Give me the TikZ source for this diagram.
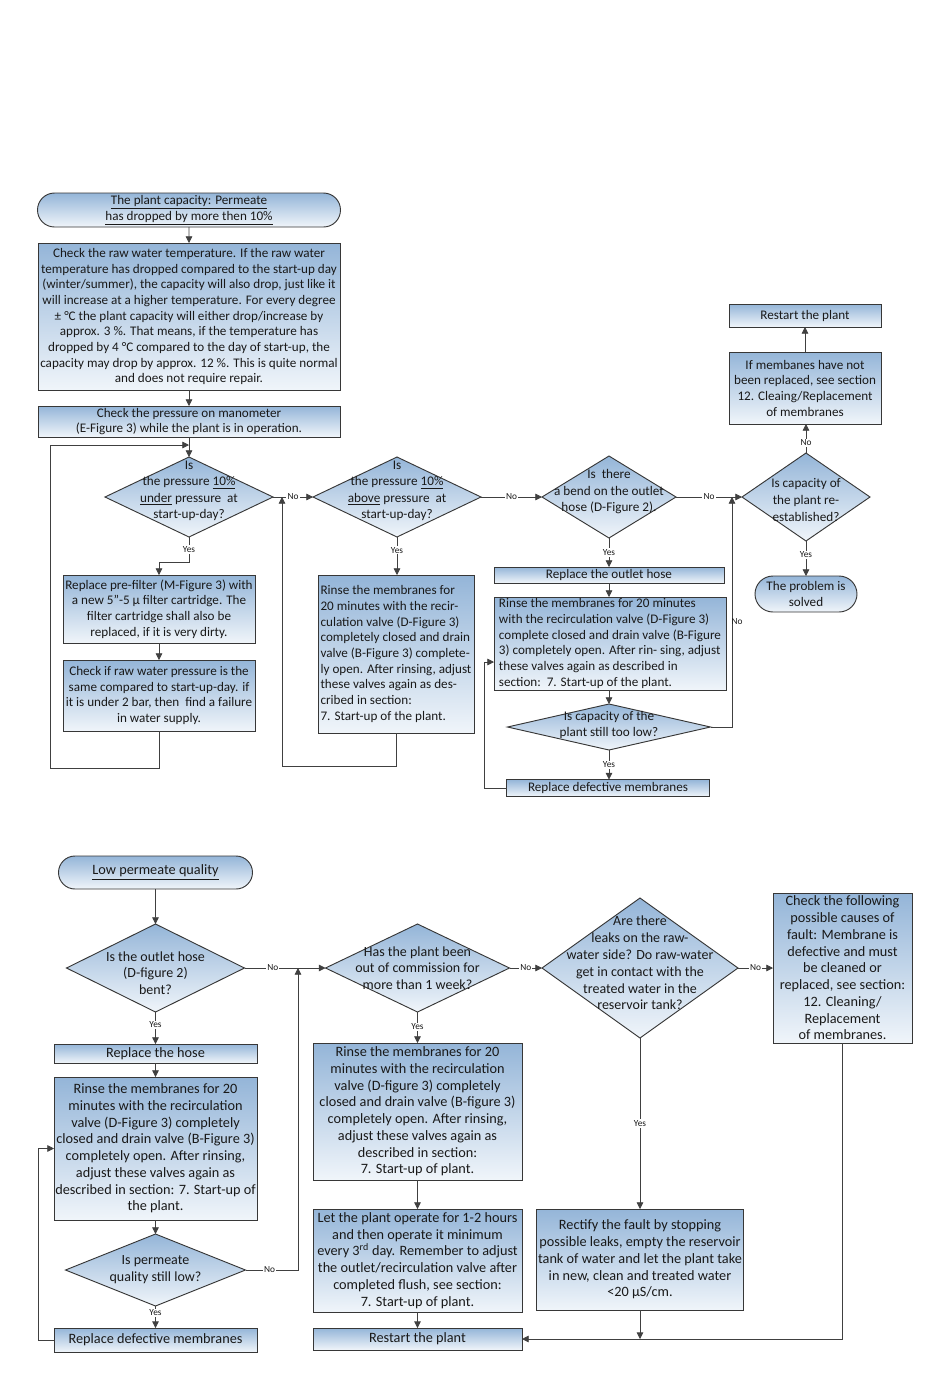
\documentclass[tikz,border=0pt]{standalone}
\usepackage{fontspec}
\setmainfont{Carlito}
\usetikzlibrary{shapes.geometric,shapes.misc,arrows.meta,calc}
\newdimen\px \px=0.75pt
\definecolor{topc}{RGB}{148,181,216}
\definecolor{botc}{RGB}{240,245,250}
\definecolor{bord}{RGB}{55,55,55}
\definecolor{linec}{RGB}{64,64,64}
\definecolor{txt}{RGB}{25,25,25}
\newcommand\myfa{\fontsize{9.85}{11.75}\selectfont}
\newcommand\myfb{\fontsize{10.7}{12.55}\selectfont}
\newcommand\myfc{\fontsize{10.5}{12.6}\selectfont}
\newcommand\myfd{\fontsize{9.9}{12.4}\selectfont}
\newcommand\myfl{\fontsize{7}{7.5}\selectfont}
\begin{document}
\begin{tikzpicture}[x=0.75pt,y=-0.75pt,
 base/.style={draw=bord, line width=0.7pt, top color=topc, bottom color=botc, text=txt, font=\myfa, inner sep=0pt, outer sep=0pt},
 box/.style={base, rectangle, align=center},
 bbox/.style={box, font=\myfb},
 lbox/.style={base, rectangle, align=left},
 term/.style={base, rounded rectangle, align=center},
 dia/.style={base, diamond},
 dtext/.style={text=txt, font=\myfd, align=center, inner sep=0pt},
 btext/.style={dtext, font=\myfc},
 arr/.style={draw=linec, line width=0.6pt, -{Triangle[length=5pt,width=5pt]}},
 lbl/.style={fill=white, font=\myfl, text=txt, inner sep=0.8pt},
 sz/.style 2 args={minimum width=#1\px, minimum height=#2\px},
]
\useasboundingbox (0,0) rectangle (950,1397);

% ---------------- top chart ----------------
\node[term, sz={303}{34}] (t1) at (189,210) {\underline{The plant capacity: Permeate}\\\underline{has dropped by more then 10\%}};
\node[box, sz={302}{147}] (b1) at (189,316.5) {Check the raw water temperature. If the raw water\\temperature has dropped compared to the start-up day\\(winter/summer), the capacity will also drop, just like it\\will increase at a higher temperature. For every degree\\± °C the plant capacity will either drop/increase by\\approx. 3 \%. That means, if the temperature has\\dropped by 4 °C compared to the day of start-up, the\\capacity may drop by approx. 12 \%. This is quite normal\\and does not require repair.};
\node[box, sz={302}{31}] (b2) at (189,421.5) {Check the pressure on manometer\\(E-Figure 3) while the plant is in operation.};

\node[dia, sz={168}{80}] (d1) at (189,497) {};
\node[dtext] (d1t) at (189,491) {Is\\the pressure \underline{10\%}\\\underline{under} pressure\ \ at\\start-up-day?};
\node[box, sz={192}{68}] (b3) at (159,609) {Replace pre-filter (M-Figure 3) with\\a new 5”-5 µ filter cartridge. The\\filter cartridge shall also be\\replaced, if it is very dirty.};
\node[box, sz={192}{71}] (b4) at (159,695.5) {Check if raw water pressure is the\\same compared to start-up-day. if\\it is under 2 bar, then\ \ find a failure\\in water supply.};

\node[dia, sz={168}{80}] (d2) at (397,497) {};
\node[dtext] (d2t) at (397,491) {Is\\the pressure \underline{10\%}\\\underline{above} pressure\ \ at\\start-up-day?};
\node[lbox, sz={156}{158}] (b5) at (396,654) {Rinse the membranes for\\20 minutes with the recir-\\culation valve (D-Figure 3)\\completely closed and drain\\valve (B-Figure 3) complete-\\ly open. After rinsing, adjust\\these valves again as des-\\cribed in section:\\7. Start-up of the plant.};

\node[dia, sz={134}{82}] (d3) at (609,497) {};
\node[dtext] (d3t) at (609,492) {Is\ \ there\\a bend on the outlet\\hose (D-Figure 2).};
\node[box, sz={230}{16}] (b6) at (609,575) {Replace the outlet hose};
\node[lbox, sz={232}{93}] (b7) at (610,643.5) {Rinse the membranes for 20 minutes\\with the recirculation valve (D-Figure 3)\\complete closed and drain valve (B-Figure\\3) completely open. After rin- sing, adjust\\these valves again as described in\\section:\ \ 7. Start-up of the plant.};
\node[dia, sz={203}{46}] (d4) at (609,727) {};
\node[dtext] (d4t) at (609,725) {Is capacity of the\\plant still too low?};
\node[box, sz={203}{17}] (b10) at (608,788) {Replace defective membranes};

\node[dia, sz={128}{88}] (d5) at (806,497) {};
\node[dtext] (d5t) at (806,500) {Is capacity of\\the plant re-\\established?};
\node[box, sz={152}{72}] (b8) at (805,388) {If membanes have not\\been replaced, see section\\12. Cleaing/Replacement\\of membranes};
\node[box, sz={152}{23}] (b9) at (805,315.5) {Restart the plant};
\node[term, sz={102}{36}] (t2) at (806,594) {The problem is\\solved};

% connectors top
\draw[arr] (t1) -- (b1);
\draw[arr] (b1) -- (b2);
\draw[arr] (b2) -- (d1);
\coordinate (j1) at (189,445);
\coordinate (l1) at (50,768);
\draw[arr] (b4.south) |- (l1) |- (j1);
\draw[arr] (d1.south) -- node[lbl]{Yes} ++(0,25) -| (b3.north);
\draw[arr] (b3) -- (b4);
\draw[arr] (d1.east) -- node[lbl]{No} (d2.west);
\coordinate (j2) at (282,497);
\draw[arr] (b5.south) -- ++(0,33) -| (j2);
\draw[arr] (d2.south) -- node[lbl,pos=0.35]{Yes} (d2.south |- b5.north);
\draw[arr] (d2.east) -- node[lbl]{No} (d3.west);
\draw[arr] (d3.south) -- node[lbl]{Yes} (d3.south |- b6.north);
\draw[arr] (b6.south) -- (b6.south |- b7.north);
\draw[arr] (d4.north |- b7.south) -- (d4.north);
\draw[arr] (d4.south) -- node[lbl]{Yes} (d4.south |- b10.north);
\coordinate (l3) at (484,662);
\draw[arr] (b10.west) -| (l3) -- (l3 -| b7.west);
\coordinate (j4) at (732,497);
\draw[arr] (d4.east) -| (j4);
\node[lbl, fill=none] (n4) at (737,622) {No};
\draw[arr] (d3.east) -- node[lbl]{No} (d5.west);
\draw[arr] (d5.north) -- node[lbl,pos=0.35]{No} (d5.north |- b8.south);
\draw[arr] (b8) -- (b9);
\draw[arr] (d5.south) -- node[lbl,pos=0.4]{Yes} (d5.south |- t2.north);

% ---------------- bottom chart ----------------
\node[term, font=\myfb, sz={194}{33}] (t3) at (155.5,872.5) {\underline{Low permeate quality}};
\node[dia, sz={178}{88}] (d6) at (155.5,968) {};
\node[btext] (d6t) at (155.5,973) {Is the outlet hose\\(D-figure 2)\\bent?};
\node[bbox, sz={203}{19}] (b11) at (155.5,1053.5) {Replace the hose};
\node[bbox, sz={203}{143}] (b12) at (155.5,1148.5) {Rinse the membranes for 20\\minutes with the recirculation\\valve (D-Figure 3) completely\\closed and drain valve (B-Figure 3)\\completely open. After rinsing,\\adjust these valves again as\\described in section: 7. Start-up of\\the plant.};
\node[dia, sz={180}{72}] (d8) at (155.5,1270) {};
\node[btext] (d8t) at (155.5,1270) {Is permeate\\quality still low?};
\node[bbox, sz={203}{24}] (b13) at (155.5,1340) {Replace defective membranes};

\node[dia, sz={184}{88}] (d7) at (417.5,968) {};
\node[btext] (d7t) at (417.5,968) {Has the plant been\\out of commission for\\more than 1 week?};
\node[bbox, sz={209}{137}] (b14) at (417.5,1111.5) {Rinse the membranes for 20\\minutes with the recirculation\\valve (D-figure 3) completely\\closed and drain valve (B-figure 3)\\completely open. After rinsing,\\adjust these valves again as\\described in section:\\7. Start-up of plant.};
\node[bbox, sz={209}{103}] (b15) at (417.5,1260.5) {Let the plant operate for 1-2 hours\\and then operate it minimum\\every 3\textsuperscript{rd} day. Remember to adjust\\the outlet/recirculation valve after\\completed flush, see section:\\7. Start-up of plant.};
\node[bbox, sz={209}{22}] (b16) at (417.5,1339) {Restart the plant};

\node[dia, sz={196}{140}] (d9) at (640,968) {};
\node[btext] (d9t) at (640,963) {Are there\\leaks on the raw-\\water side? Do raw-water\\get in contact with the\\treated water in the\\reservoir tank?};
\node[bbox, sz={139}{150}] (b17) at (842.5,968) {Check the following\\possible causes of\\fault: Membrane is\\defective and must\\be cleaned or\\replaced, see section:\\12. Cleaning/\\Replacement\\of membranes.};
\node[bbox, sz={207}{101}] (b18) at (640,1259.5) {Rectify the fault by stopping\\possible leaks, empty the reservoir\\tank of water and let the plant take\\in new, clean and treated water\\<20 µS/cm.};

% connectors bottom
\draw[arr] (t3) -- (d6);
\draw[arr] (d6.south) -- node[lbl,pos=0.4]{Yes} (d6.south |- b11.north);
\draw[arr] (b11) -- (b12);
\draw[arr] (b12) -- (d8);
\draw[arr] (d8.south) -- node[lbl,pos=0.3]{Yes} (d8.south |- b13.north);
\coordinate (l5) at (38,1148.5);
\draw[arr] (b13.west) -| (l5) -- (b12.west);
\draw[arr] (d6.east) -- node[lbl,pos=0.35]{No} (d7.west);
\coordinate (j6) at (298,968);
\draw[arr] (d8.east) -| node[lbl,pos=0.23]{No} (j6);
\draw[arr] (d7.east) -- node[lbl]{No} (d9.west);
\draw[arr] (d7.south) -- node[lbl,pos=0.48]{Yes} (d7.south |- b14.north);
\draw[arr] (b14) -- (b15);
\draw[arr] (b15) -- (b16);
\draw[arr] (d9.east) -- node[lbl]{No} (b17.west);
\draw[arr] (d9.south) -- node[lbl]{Yes} (d9.south |- b18.north);
\draw[arr] (b18.south) -- (b18.south |- b16.east);
\draw[arr] (b17.south) |- (b16.east);
\end{tikzpicture}
\end{document}
